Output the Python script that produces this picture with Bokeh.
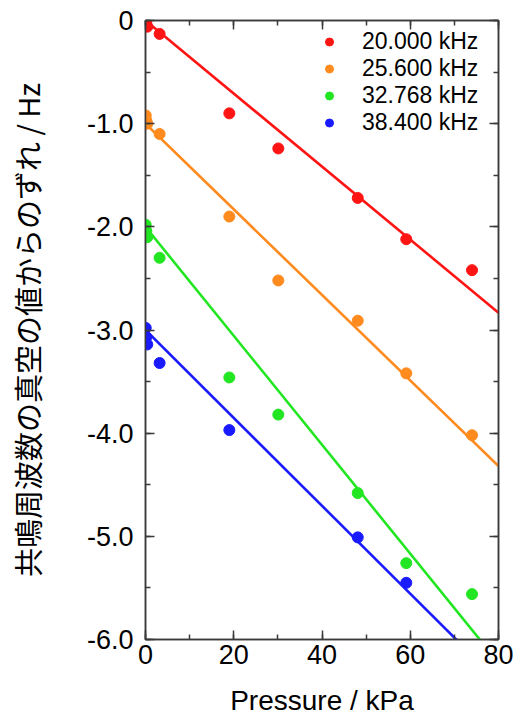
import numpy as np
from bokeh.plotting import figure
from bokeh.models import (Range1d, LinearAxis, SingleIntervalTicker,
                          CustomJSTickFormatter, Legend, LegendItem)
from bokeh.embed import file_html
from bokeh.resources import INLINE

# Pressure (kPa) at which each resonance shift was measured
pressure = [0.05, 0.2, 0.4, 3.2, 19.0, 30.1, 48.1, 59.1, 74.0]

# Shift of the resonance frequency from its vacuum value (Hz)
shift_20000 = [0.00, -0.03, -0.06, -0.13, -0.90, -1.24, -1.72, -2.12, -2.42]
shift_25600 = [-0.92, -0.97, -1.00, -1.10, -1.90, -2.52, -2.91, -3.42, -4.02]
shift_32768 = [-1.98, -2.04, -2.10, -2.30, -3.46, -3.82, -4.58, -5.26, -5.56]
shift_38400 = [-2.98, -3.07, -3.14, -3.32, -3.97, np.nan, -5.01, -5.45, np.nan]

# Linear fits: shift = intercept + slope * pressure
fit_slope = [-0.0354, -0.0415, -0.0528, -0.0426]
fit_intercept = [0.0, -1.0, -2.0, -3.0]

series_labels = ["20.000 kHz", "25.600 kHz", "32.768 kHz", "38.400 kHz"]
series_colors = ["#ff1414", "#ff8a1e", "#22e622", "#1a1aff"]
x_ticks_range = [0, 80]
y_ticks_range = [-6.0, 0.0]
x_title = "Pressure / kPa"
y_title = "共鳴周波数の真空の値からのずれ / Hz"

series = [shift_20000, shift_25600, shift_32768, shift_38400]

LATIN = "Liberation Sans"
AXIS_COLOR = "#3a3a3a"

p = figure(width=529, height=719, output_backend="svg", toolbar_location=None,
           x_range=Range1d(*x_ticks_range), y_range=Range1d(*y_ticks_range),
           min_border_left=145, min_border_right=31,
           min_border_top=20, min_border_bottom=80,
           background_fill_color="white", border_fill_color="white")
p.xgrid.visible = False
p.ygrid.visible = False
p.outline_line_color = AXIS_COLOR
p.outline_line_width = 1.5

x_ticker = SingleIntervalTicker(interval=20, num_minor_ticks=2)
y_ticker = SingleIntervalTicker(interval=1, num_minor_ticks=2)
blank = CustomJSTickFormatter(code="return '';")


def style_axis(ax, show_labels):
    ax.axis_line_color = AXIS_COLOR
    ax.axis_line_width = 1.5
    ax.major_tick_line_color = AXIS_COLOR
    ax.minor_tick_line_color = AXIS_COLOR
    ax.major_tick_line_width = 1.5
    ax.minor_tick_line_width = 1.5
    ax.major_tick_in = 9
    ax.major_tick_out = 0
    ax.minor_tick_in = 5
    ax.minor_tick_out = 0
    if show_labels:
        ax.major_label_text_font = LATIN
        ax.major_label_text_font_size = "27px"
        ax.major_label_text_color = "black"
        ax.axis_label_text_color = "black"
        ax.axis_label_text_font_style = "normal"
    else:
        ax.formatter = blank
        ax.major_label_text_font_size = "1px"
        ax.major_label_standoff = 0


xa = p.xaxis[0]
xa.ticker = x_ticker
style_axis(xa, True)
xa.major_label_standoff = 5
xa.axis_label = x_title
xa.axis_label_text_font = LATIN
xa.axis_label_text_font_size = "28px"
xa.axis_label_standoff = 18

ya = p.yaxis[0]
ya.ticker = y_ticker
style_axis(ya, True)
ya.major_label_standoff = 12
ya.formatter = CustomJSTickFormatter(
    code="return tick == 0 ? '0' : tick.toFixed(1);")
ya.axis_label = y_title
ya.axis_label_text_font = "Noto Sans CJK JP"
ya.axis_label_text_font_size = "29px"
ya.axis_label_standoff = 36

top = LinearAxis(ticker=x_ticker)
style_axis(top, False)
p.add_layout(top, "above")

right = LinearAxis(ticker=y_ticker)
style_axis(right, False)
p.add_layout(right, "right")

x_fit = np.array(x_ticks_range, dtype=float)
items = []
for vals, slope, icpt, label, color in zip(series, fit_slope, fit_intercept,
                                           series_labels, series_colors):
    p.line(x_fit, icpt + slope * x_fit, line_color=color, line_width=2.6)
    r = p.scatter(pressure, vals, size=11, marker="circle",
                  fill_color=color, line_color=color)
    items.append(LegendItem(label=label, renderers=[r]))

legend = Legend(items=items, location=(174, 503),
                border_line_alpha=0, background_fill_alpha=0,
                padding=0, margin=0, spacing=0,
                label_height=25, glyph_height=25, glyph_width=20,
                label_standoff=23,
                label_text_font=LATIN, label_text_font_size="23px",
                label_text_color="black")
p.add_layout(legend)

open("out.html", "w").write(file_html(p, INLINE))
